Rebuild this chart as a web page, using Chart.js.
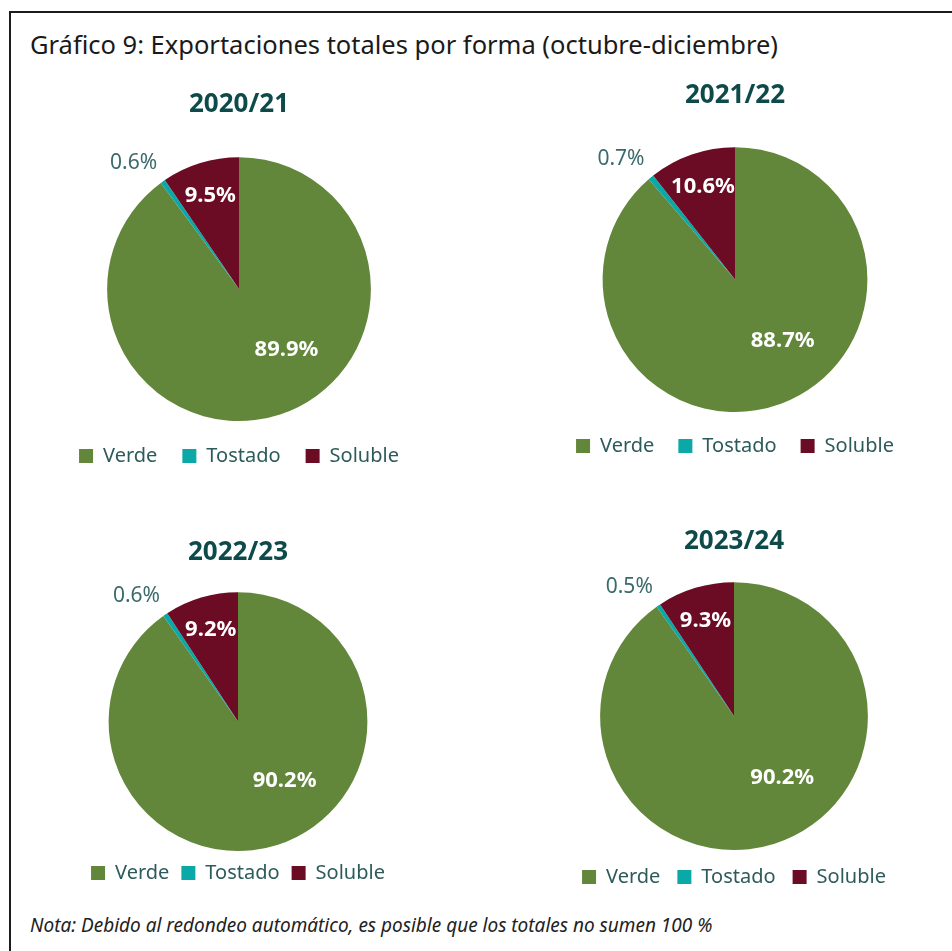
<!DOCTYPE html>
<html>
<head>
<meta charset="utf-8">
<script src="https://cdn.jsdelivr.net/npm/chart.js@4"></script>
<style>
  html, body { margin: 0; padding: 0; background: #fff; overflow: hidden; }
  body { width: 952px; height: 951px; position: relative; font-family: "Noto Sans", sans-serif; }
  #frame { position: absolute; left: 9px; top: 11px; width: 980px; height: 980px;
           border-left: 2px solid #1c1c1c; border-top: 2px solid #1c1c1c; }
  #titulo { position: absolute; left: 30px; top: 26px; font-size: 25.5px; line-height: 36px; color: #1a1a1a; white-space: nowrap; }
  #nota { position: absolute; left: 30px; top: 911px; font-size: 19px; line-height: 28px; font-style: italic; color: #222; white-space: nowrap; }
  canvas { position: absolute; }
</style>
</head>
<body>
<div id="frame"></div>
<div id="titulo">Gráfico 9: Exportaciones totales por forma (octubre-diciembre)</div>
<canvas id="c0"></canvas>
<canvas id="c1"></canvas>
<canvas id="c2"></canvas>
<canvas id="c3"></canvas>
<div id="nota">Nota: Debido al redondeo automático, es posible que los totales no sumen 100 %</div>
<script>
// Datos (porcentaje de exportaciones por forma)
const categorias = ['Verde', 'Tostado', 'Soluble'];
const periodos = ['2020/21', '2021/22', '2022/23', '2023/24'];
const verde = [89.9, 88.7, 90.2, 90.2];
const tostado = [0.6, 0.7, 0.6, 0.5];
const soluble = [9.5, 10.6, 9.2, 9.3];

const colores = ['#62863a', '#0aa8a6', '#6b0b24'];

// Posición de cada gráfico en la página
const cajas = [
  { left: 29,  top: 80,  w: 420, h: 396, tTop: 9, tBot: 37, legPad: 25 },
  { left: 525, top: 71,  w: 420, h: 395, tTop: 9, tBot: 36, legPad: 24 },
  { left: 28,  top: 528, w: 420, h: 365, tTop: 9, tBot: 24, legPad: 12 },
  { left: 524, top: 517, w: 420, h: 380, tTop: 9, tBot: 25, legPad: 17 }
];

// Etiquetas de porcentaje sobre las porciones
const etiquetas = {
  id: 'etiquetas',
  afterDatasetsDraw(chart) {
    const ctx = chart.ctx;
    const meta = chart.getDatasetMeta(0);
    const vals = chart.data.datasets[0].data;
    meta.data.forEach((arc, i) => {
      const p = arc.getProps(['x', 'y', 'startAngle', 'endAngle', 'outerRadius'], true);
      const r = p.outerRadius;
      const mid = (p.startAngle + p.endAngle) / 2;
      const txt = vals[i].toFixed(1) + '%';
      ctx.save();
      ctx.textBaseline = 'middle';
      if (i === 0) {
        ctx.font = 'bold 22px "Noto Sans"';
        ctx.fillStyle = '#fff';
        ctx.textAlign = 'center';
        ctx.fillText(txt, p.x + 0.36 * r, p.y + 0.46 * r);
      } else if (i === 1) {
        ctx.font = '21px "Noto Sans"';
        ctx.fillStyle = '#3a6a6a';
        ctx.textAlign = 'right';
        ctx.fillText(txt, p.x + Math.cos(mid) * r * 1.1 + 2, p.y + Math.sin(mid) * r * 1.1 - 8);
      } else {
        ctx.font = 'bold 22px "Noto Sans"';
        ctx.fillStyle = '#fff';
        ctx.textAlign = 'center';
        ctx.fillText(txt, p.x + Math.cos(mid) * r * 0.74, p.y + Math.sin(mid) * r * 0.74);
      }
      ctx.restore();
    });
  }
};

periodos.forEach((per, k) => {
  const b = cajas[k];
  const cv = document.getElementById('c' + k);
  cv.width = b.w; cv.height = b.h;
  cv.style.left = b.left + 'px';
  cv.style.top = b.top + 'px';
  new Chart(cv.getContext('2d'), {
    type: 'pie',
    data: {
      labels: categorias,
      datasets: [{
        data: [verde[k], tostado[k], soluble[k]],
        backgroundColor: colores,
        borderWidth: 0
      }]
    },
    options: {
      responsive: false,
      animation: false,
      events: [],
      layout: { padding: 0 },
      plugins: {
        title: {
          display: true,
          text: per,
          color: '#0e4a4a',
          font: { family: 'Noto Sans', size: 26, weight: 'bold' },
          padding: { top: b.tTop, bottom: b.tBot }
        },
        legend: {
          position: 'bottom',
          labels: {
            boxWidth: 14, boxHeight: 14,
            padding: b.legPad,
            color: '#2d5b5b',
            font: { family: 'Noto Sans', size: 20 }
          }
        },
        tooltip: { enabled: false }
      }
    },
    plugins: [etiquetas]
  });
});
</script>
</body>
</html>
